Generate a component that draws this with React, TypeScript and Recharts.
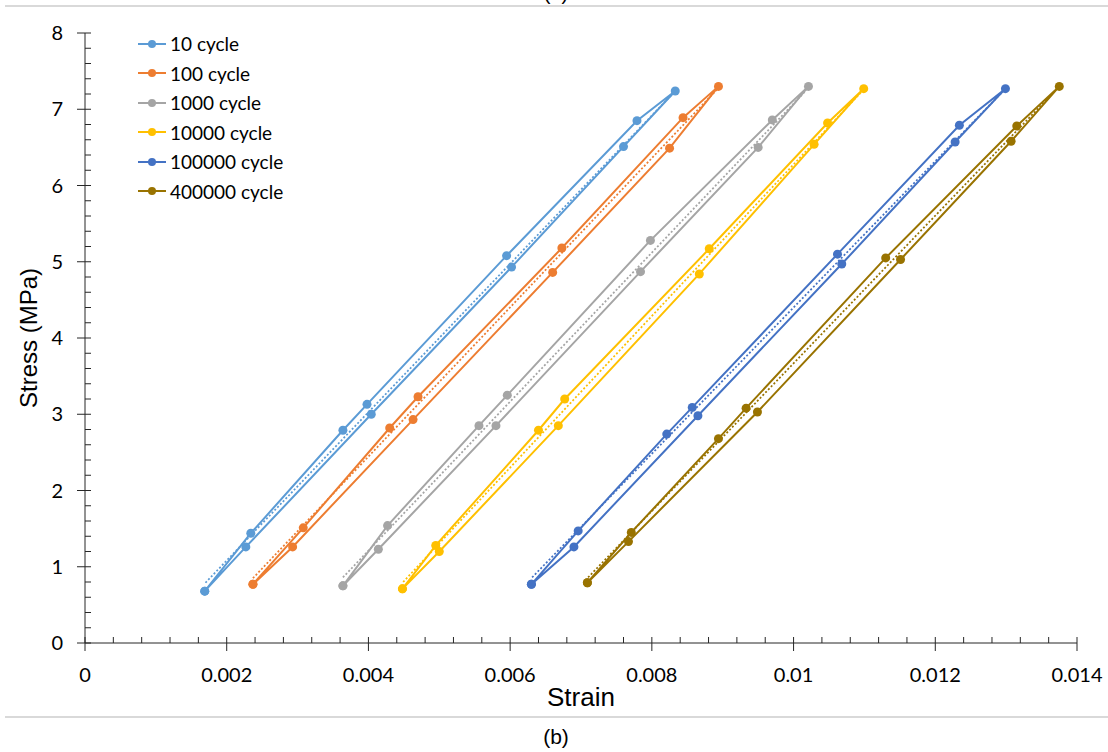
import { ComposedChart, Line, XAxis, YAxis, Legend } from 'recharts';

type Pt = [number, number];

const strainTicks = [0, 0.002, 0.004, 0.006, 0.008, 0.01, 0.012, 0.014];
const stressTicks = [0, 1, 2, 3, 4, 5, 6, 7, 8];
// minor ticks: 5 divisions between major ticks
const strainMinor = Array.from({ length: 36 }, (_, i) => +(i * 0.0004).toFixed(4));
const stressMinor = Array.from({ length: 41 }, (_, i) => +(i * 0.2).toFixed(1));

const cycleNames = ['10 cycle', '100 cycle', '1000 cycle', '10000 cycle', '100000 cycle', '400000 cycle'];
const cycleColors = ['#5B9BD5', '#ED7D31', '#A5A5A5', '#FFC000', '#4472C4', '#997300'];

// hysteresis loops: bottom -> loading branch -> top -> unloading branch -> bottom
const loop10: Pt[] = [
  [0.00169, 0.68], [0.00234, 1.44], [0.00364, 2.79], [0.00398, 3.13], [0.00595, 5.08], [0.00779, 6.85],
  [0.00833, 7.24], [0.0076, 6.51], [0.00602, 4.93], [0.00404, 3.0], [0.00227, 1.26], [0.00169, 0.68],
];
const loop100: Pt[] = [
  [0.00237, 0.77], [0.00308, 1.51], [0.0043, 2.82], [0.0047, 3.23], [0.00673, 5.18], [0.00844, 6.89],
  [0.00894, 7.3], [0.00825, 6.49], [0.0066, 4.86], [0.00463, 2.93], [0.00293, 1.26], [0.00237, 0.77],
];
const loop1000: Pt[] = [
  [0.00364, 0.75], [0.00427, 1.54], [0.00556, 2.85], [0.00596, 3.25], [0.00798, 5.28], [0.0097, 6.86],
  [0.01021, 7.3], [0.0095, 6.5], [0.00784, 4.87], [0.0058, 2.85], [0.00414, 1.23], [0.00364, 0.75],
];
const loop10000: Pt[] = [
  [0.00448, 0.71], [0.00495, 1.28], [0.0064, 2.79], [0.00677, 3.2], [0.00881, 5.17], [0.01048, 6.82],
  [0.01099, 7.27], [0.01029, 6.54], [0.00867, 4.84], [0.00668, 2.85], [0.005, 1.2], [0.00448, 0.71],
];
const loop100000: Pt[] = [
  [0.0063, 0.77], [0.00696, 1.47], [0.00821, 2.74], [0.00857, 3.09], [0.01062, 5.1], [0.01234, 6.79],
  [0.01299, 7.27], [0.01228, 6.57], [0.01068, 4.97], [0.00865, 2.98], [0.0069, 1.26], [0.0063, 0.77],
];
const loop400000: Pt[] = [
  [0.00709, 0.79], [0.00771, 1.45], [0.00894, 2.68], [0.00933, 3.08], [0.0113, 5.05], [0.01315, 6.78],
  [0.01375, 7.3], [0.01307, 6.58], [0.01151, 5.03], [0.00949, 3.03], [0.00767, 1.33], [0.00709, 0.79],
];

// linear trendlines (dotted), start and end
const trend10: Pt[] = [[0.0017, 0.79], [0.0083, 7.21]];
const trend100: Pt[] = [[0.00237, 0.85], [0.00892, 7.26]];
const trend1000: Pt[] = [[0.00364, 0.86], [0.01018, 7.25]];
const trend10000: Pt[] = [[0.00449, 0.8], [0.01097, 7.24]];
const trend100000: Pt[] = [[0.00631, 0.86], [0.01296, 7.24]];
const trend400000: Pt[] = [[0.0071, 0.86], [0.01372, 7.27]];

const loops = [loop10, loop100, loop1000, loop10000, loop100000, loop400000];
const trends = [trend10, trend100, trend1000, trend10000, trend100000, trend400000];

const toRows = (pts: Pt[]) => pts.map(([x, y]) => ({ x, y }));

const TICK_FONT = 'Lato, "Open Sans", sans-serif';
const TITLE_FONT = '"Liberation Sans", Arial, sans-serif';
const AXIS = '#262626';

function StrainTick({ x, y, payload }: any) {
  const v = payload.value;
  const major = strainTicks.some((t) => Math.abs(t - v) < 1e-9);
  return (
    <g>
      <line x1={x} x2={x} y1={y - 6} y2={major ? y + 8 : y} stroke={AXIS} />
      {major && (
        <text x={x} y={y + 32} dy="0.35em" textAnchor="middle" fontSize={20} fill="#000" fontFamily={TICK_FONT}>
          {String(+v.toFixed(3))}
        </text>
      )}
    </g>
  );
}

function StressTick({ x, y, payload }: any) {
  const v = payload.value;
  const major = stressTicks.includes(v);
  return (
    <g>
      <line x1={major ? x - 8 : x} x2={x + 6} y1={y} y2={y} stroke={AXIS} />
      {major && (
        <text x={x - 22} y={y} dy="0.35em" textAnchor="end" fontSize={20} fill="#000" fontFamily={TICK_FONT}>
          {v}
        </text>
      )}
    </g>
  );
}

function CycleLegend({ payload }: any) {
  const items = (payload || []).filter((p: any) => p.type !== 'none');
  items.sort((a: any, b: any) => cycleNames.indexOf(a.value) - cycleNames.indexOf(b.value));
  return (
    <div>
      {items.map((p: any) => (
        <div key={p.value} style={{ display: 'flex', alignItems: 'center', height: 29.5 }}>
          <svg width={28} height={10} style={{ display: 'block' }}>
            <line x1={0} x2={28} y1={5} y2={5} stroke={p.color} strokeWidth={2} />
            <circle cx={14} cy={5} r={4} fill={p.color} />
          </svg>
          <span style={{ marginLeft: 4, fontFamily: TICK_FONT, fontSize: 19, color: '#000', lineHeight: '29.5px' }}>
            {p.value}
          </span>
        </div>
      ))}
    </div>
  );
}

export default function App() {
  return (
    <div style={{ position: 'absolute', left: 0, top: 0, width: 1108, height: 752, background: '#fff' }}>
      <ComposedChart width={1108} height={752} margin={{ top: 33, right: 31, bottom: 39, left: 0 }}>
        <XAxis
          type="number"
          dataKey="x"
          domain={[0, 0.014]}
          ticks={strainMinor}
          interval={0}
          tick={StrainTick}
          tickLine={false}
          tickSize={0}
          tickMargin={0}
          height={70}
          allowDataOverflow
          axisLine={{ stroke: AXIS }}
          label={{ value: 'Strain', position: 'insideBottom', offset: 7, fill: '#000', fontSize: 26, fontFamily: TITLE_FONT }}
        />
        <YAxis
          type="number"
          domain={[0, 8]}
          ticks={stressMinor}
          interval={0}
          tick={StressTick}
          tickLine={false}
          tickSize={0}
          tickMargin={0}
          width={85}
          allowDataOverflow
          axisLine={{ stroke: AXIS }}
          label={{
            value: 'Stress (MPa)',
            angle: -90,
            position: 'insideLeft',
            offset: 28,
            fill: '#000',
            fontSize: 24,
            fontFamily: TITLE_FONT,
            style: { textAnchor: 'middle' },
          }}
        />
        <Legend
          layout="vertical"
          align="center"
          verticalAlign="middle"
          wrapperStyle={{ left: 138, top: 29, width: 'auto' }}
          content={CycleLegend}
        />
        {loops.map((pts, i) => (
          <Line
            key={cycleNames[i]}
            name={cycleNames[i]}
            data={toRows(pts)}
            dataKey="y"
            type="linear"
            stroke={cycleColors[i]}
            strokeWidth={2}
            dot={{ r: 4.5, fill: cycleColors[i], stroke: cycleColors[i], strokeWidth: 0 }}
            activeDot={false}
            isAnimationActive={false}
          />
        ))}
        {trends.map((pts, i) => (
          <Line
            key={'trend ' + cycleNames[i]}
            name={'Linear (' + cycleNames[i] + ')'}
            data={toRows(pts)}
            dataKey="y"
            type="linear"
            stroke={cycleColors[i]}
            strokeWidth={1.75}
            strokeDasharray="2 2"
            dot={false}
            activeDot={false}
            legendType="none"
            isAnimationActive={false}
          />
        ))}
      </ComposedChart>
      <svg width={1108} height={752} style={{ position: 'absolute', left: 0, top: 0, pointerEvents: 'none' }}>
        <text x={556} y={0} textAnchor="middle" fontSize={20} fontFamily={TITLE_FONT} fill="#000">(a)</text>
        <line x1={5} x2={1108} y1={6} y2={6} stroke="#D9D9D9" strokeWidth={2} />
        <line x1={5} x2={1108} y1={717} y2={717} stroke="#D9D9D9" strokeWidth={2} />
        <text x={556} y={744} textAnchor="middle" fontSize={21} fontFamily={TITLE_FONT} fill="#000">(b)</text>
      </svg>
    </div>
  );
}
